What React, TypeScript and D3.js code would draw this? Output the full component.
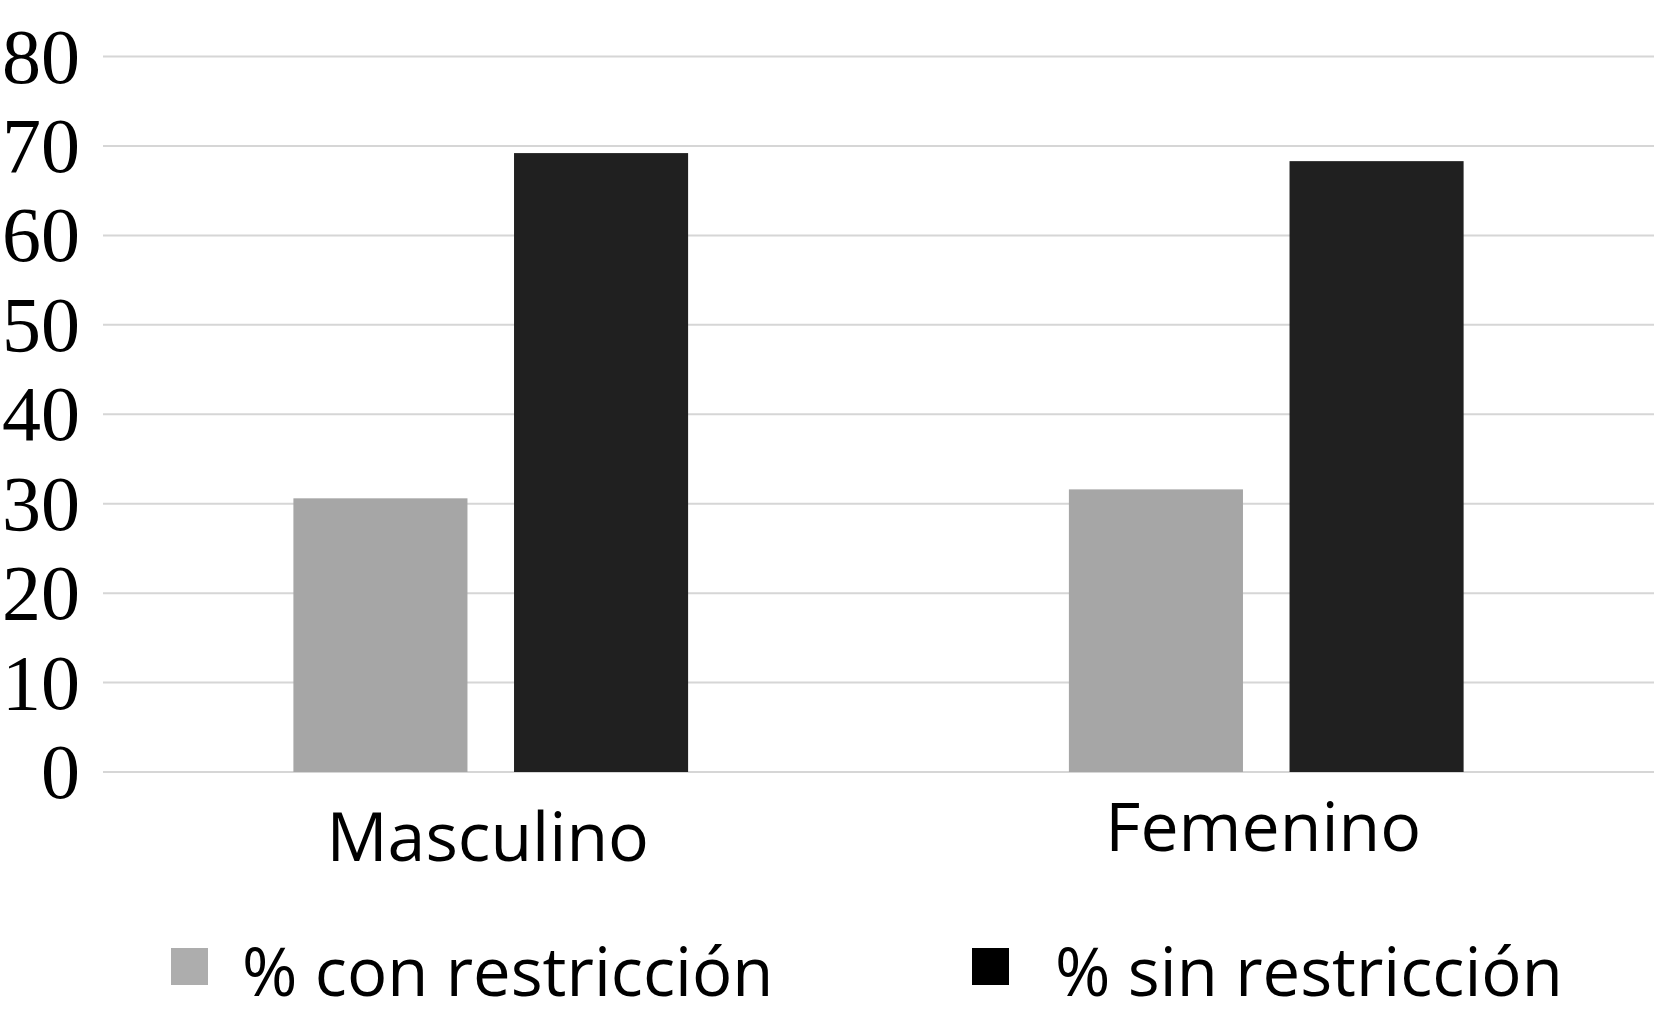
import React from "react";
import * as d3 from "d3";

const categories = ["Masculino", "Femenino"];
const seriesNames = ["% con restricción", "% sin restricción"];
const conRestriccion = [30.6, 31.6];
const sinRestriccion = [69.2, 68.3];
const yTicks = [0, 10, 20, 30, 40, 50, 60, 70, 80];

const barColors = ["#a6a6a6", "#202020"];
const legendColors = ["#adadad", "#000000"];

const W = 1656;
const H = 1024;

export default function App() {
  const x0 = d3.scaleBand<string>().domain(categories).range([103, 1654]).paddingInner(0).paddingOuter(0);
  const x1 = d3
    .scaleBand<string>()
    .domain(seriesNames)
    .range([0, x0.bandwidth()])
    .paddingInner(0.211)
    .paddingOuter(0.863);
  const y = d3.scaleLinear().domain([0, 80]).range([772, 56.5]);
  const values = [conRestriccion, sinRestriccion];

  const legendItems = [
    { name: seriesNames[0], color: legendColors[0], sx: 171, tx: 242 },
    { name: seriesNames[1], color: legendColors[1], sx: 972, tx: 1055 },
  ];

  return (
    <svg width={W} height={H} style={{ position: "absolute", left: 0, top: 0, background: "#fff" }}>
      <rect x={0} y={0} width={W} height={H} fill="#fff" />
      {yTicks.map((t) => (
        <g key={t}>
          <line x1={103} x2={1654} y1={y(t)} y2={y(t)} stroke="#d6d6d6" strokeWidth={2} />
          <text
            x={80}
            y={y(t) + 26}
            textAnchor="end"
            fontFamily="'Liberation Serif', 'Times New Roman', serif"
            fontSize={78}
            fill="#000"
          >
            {t}
          </text>
        </g>
      ))}
      {categories.map((c, ci) => (
        <g key={c} transform={`translate(${x0(c)},0)`}>
          {seriesNames.map((s, si) => (
            <rect
              key={s}
              x={x1(s)}
              y={y(values[si][ci])}
              width={x1.bandwidth()}
              height={y(0) - y(values[si][ci])}
              fill={barColors[si]}
            />
          ))}
          <text
            x={x0.bandwidth() / 2 - 3}
            y={ci === 0 ? 861 : 851}
            textAnchor="middle"
            fontFamily="'Open Sans', sans-serif"
            fontSize={68}
            fill="#000"
          >
            {c}
          </text>
        </g>
      ))}
      {legendItems.map((l) => (
        <g key={l.name}>
          <rect x={l.sx} y={948} width={37} height={37} fill={l.color} />
          <text x={l.tx} y={996} fontFamily="'Open Sans', sans-serif" fontSize={67} fill="#000">
            {l.name}
          </text>
        </g>
      ))}
    </svg>
  );
}
